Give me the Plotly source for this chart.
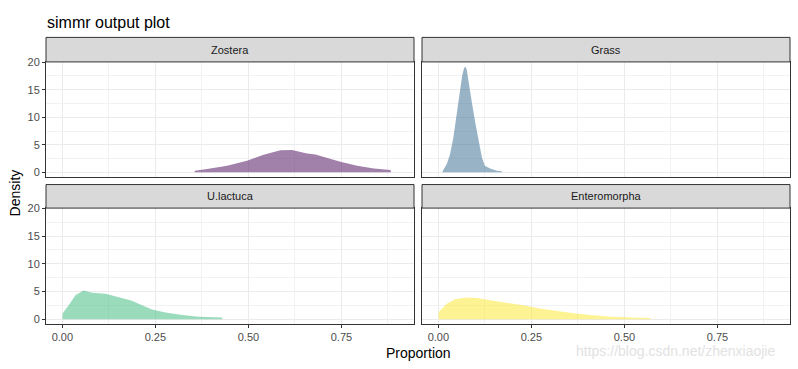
import plotly.graph_objects as go

W, H = 798, 369

sources = ["Zostera", "Grass", "U.lactuca", "Enteromorpha"]
colors = ["rgba(68,1,84,0.5)", "rgba(49,104,142,0.5)", "rgba(53,183,121,0.5)", "rgba(253,231,37,0.5)"]

zostera_x = [0.355, 0.356, 0.389, 0.443, 0.496, 0.541, 0.586, 0.605, 0.617, 0.640, 0.658, 0.680, 0.703, 0.747, 0.792, 0.837, 0.882, 0.883]
zostera_y = [0.0, 0.3, 0.58, 1.2, 2.1, 3.2, 4.0, 4.1, 4.05, 3.7, 3.4, 3.25, 2.8, 1.9, 1.2, 0.7, 0.4, 0.0]

grass_x = [0.011, 0.012, 0.0226, 0.031, 0.040, 0.049, 0.058, 0.064, 0.069, 0.072, 0.076, 0.081, 0.090, 0.099, 0.108, 0.117, 0.125, 0.139, 0.157, 0.170, 0.171]
grass_y = [0.0, 0.3, 1.5, 3.2, 6.2, 10.3, 15.0, 17.6, 18.9, 19.2, 18.7, 16.2, 12.7, 9.1, 5.6, 2.7, 1.2, 0.7, 0.3, 0.2, 0.0]

ulactuca_x = [0.0, 0.001, 0.017, 0.035, 0.057, 0.080, 0.116, 0.151, 0.187, 0.214, 0.241, 0.277, 0.322, 0.366, 0.429, 0.430]
ulactuca_y = [0.0, 1.05, 2.5, 4.3, 5.15, 4.75, 4.6, 4.0, 3.3, 2.5, 1.75, 1.2, 0.75, 0.45, 0.3, 0.0]

entero_x = [0.0, 0.001, 0.0226, 0.045, 0.076, 0.103, 0.139, 0.184, 0.228, 0.273, 0.318, 0.363, 0.408, 0.462, 0.520, 0.570, 0.571]
entero_y = [0.0, 1.3, 2.8, 3.6, 3.9, 3.8, 3.4, 3.0, 2.5, 1.9, 1.45, 1.05, 0.75, 0.45, 0.3, 0.2, 0.0]

series_x = [zostera_x, grass_x, ulactuca_x, entero_x]
series_y = [zostera_y, grass_y, ulactuca_y, entero_y]

y_ticks = [0, 5, 10, 15, 20]
x_ticks = [0.0, 0.25, 0.5, 0.75]
x_tick_labels = ["0.00", "0.25", "0.50", "0.75"]

title_text = "simmr output plot"
x_title = "Proportion"
y_title = "Density"
watermark = "https://blog.csdn.net/zhenxiaojie"

# panel pixel boxes
px_cols = [(46, 414), (422, 790)]
px_rows = [(57, 174.3), (206, 324)]
strip_rows = [(32, 57), (182, 206)]

def fx(p):
    return p / W

def fy(p):
    return 1 - p / H

fig = go.Figure()
shapes = []
annotations = []
for i, name in enumerate(sources):
    r, c = divmod(i, 2)
    ax = "" if i == 0 else str(i + 1)
    fig.add_trace(go.Scatter(
        x=series_x[i], y=series_y[i], mode="lines", fill="tozeroy",
        fillcolor=colors[i], line=dict(width=0, color=colors[i]),
        xaxis="x" + ax, yaxis="y" + ax, showlegend=False, hoverinfo="skip"))
    x0, x1 = px_cols[c]
    yt, yb = px_rows[r]
    st, sb = strip_rows[r]
    common_axis = dict(showline=True, mirror=True, linecolor="#333333", linewidth=1,
                       zeroline=False, showgrid=True, gridcolor="#EBEBEB", gridwidth=1,
                       tickfont=dict(family="Liberation Sans, Arial", size=11, color="#4D4D4D"),
                       tickcolor="#333333", ticklen=3)
    xa = dict(common_axis, domain=[fx(x0), fx(x1)], range=[-0.044, 0.945],
              anchor="y" + ax, tickvals=x_ticks, ticktext=x_tick_labels,
              ticks="outside" if r == 1 else "", showticklabels=(r == 1),
              minor=dict(dtick=0.125, tick0=0.125, showgrid=True, gridcolor="#F2F2F2", gridwidth=0.6, ticks=""))
    ya = dict(common_axis, domain=[fy(yb), fy(yt)], range=[-0.85, 20.05],
              anchor="x" + ax, tickvals=y_ticks,
              ticks="outside" if c == 0 else "", showticklabels=(c == 0),
              minor=dict(dtick=5, tick0=2.5, showgrid=True, gridcolor="#F2F2F2", gridwidth=0.6, ticks=""))
    fig.layout["xaxis" + ax] = xa
    fig.layout["yaxis" + ax] = ya
    shapes.append(dict(type="rect", xref="paper", yref="paper",
                       x0=fx(x0), x1=fx(x1), y0=fy(sb), y1=fy(st),
                       fillcolor="#D9D9D9", line=dict(color="#333333", width=1), layer="above"))
    annotations.append(dict(text=name, xref="paper", yref="paper",
                            x=fx((x0 + x1) / 2), y=fy((st + sb) / 2), showarrow=False,
                            xanchor="center", yanchor="middle",
                            font=dict(family="Liberation Sans, Arial", size=11, color="#1A1A1A")))

annotations.append(dict(text=title_text, xref="paper", yref="paper", x=fx(45), y=fy(17),
                        xanchor="left", yanchor="middle", showarrow=False,
                        font=dict(family="Liberation Sans, Arial", size=16, color="black")))
annotations.append(dict(text=x_title, xref="paper", yref="paper", x=fx(418), y=fy(354),
                        xanchor="center", yanchor="middle", showarrow=False,
                        font=dict(family="Liberation Sans, Arial", size=14, color="black")))
annotations.append(dict(text=y_title, xref="paper", yref="paper", x=fx(15), y=fy(191),
                        xanchor="center", yanchor="middle", showarrow=False, textangle=-90,
                        font=dict(family="Liberation Sans, Arial", size=14, color="black")))
annotations.append(dict(text=watermark, xref="paper", yref="paper", x=fx(675), y=fy(352),
                        xanchor="center", yanchor="middle", showarrow=False,
                        font=dict(family="Liberation Sans, Arial", size=14, color="#E2E2E2")))

fig.update_layout(width=W, height=H, margin=dict(l=0, r=0, t=0, b=0),
                  paper_bgcolor="white", plot_bgcolor="white",
                  shapes=shapes, annotations=annotations, showlegend=False)

fig.write_html("out.html", config={"displayModeBar": False},
               post_script="document.body.style.margin='0';document.body.style.padding='0';document.body.style.overflow='hidden';")
